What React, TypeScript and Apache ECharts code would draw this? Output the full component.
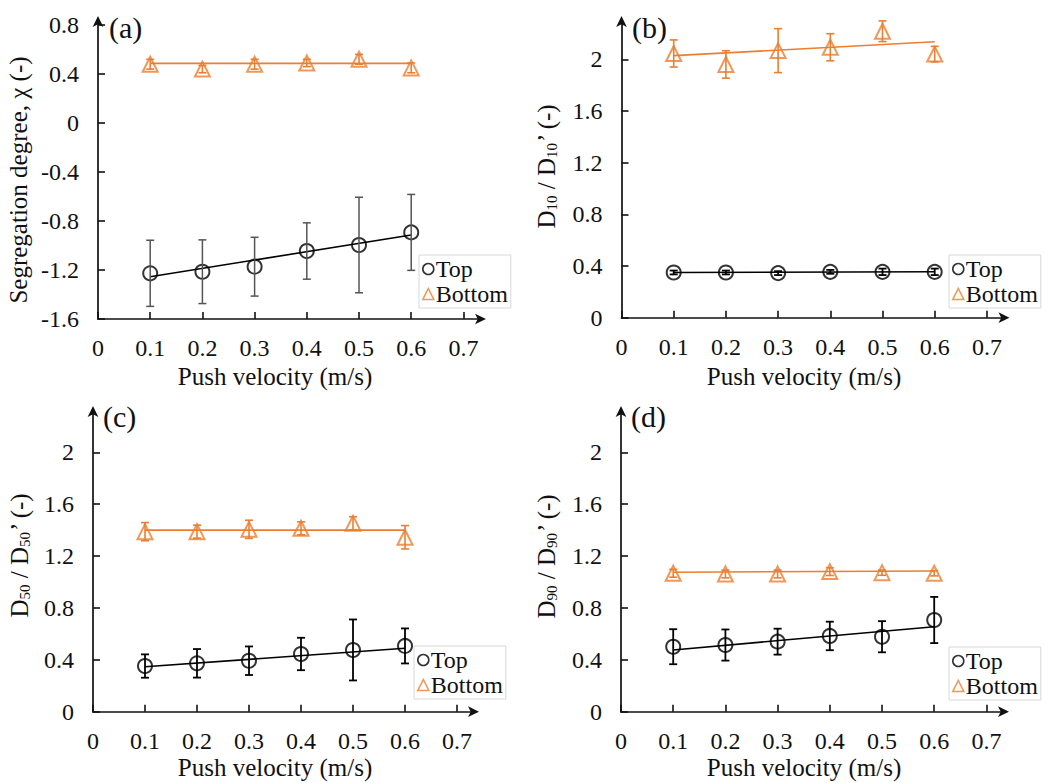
import React, { useEffect, useRef } from "react";
import * as echarts from "echarts";

const FONT = "Liberation Serif";
const ORANGE = "#EB7E30";

// ---- data ----
const velocity = [0.1, 0.2, 0.3, 0.4, 0.5, 0.6];
const trendX = [0.1, 0.6];
const xTicks = [0, 0.1, 0.2, 0.3, 0.4, 0.5, 0.6, 0.7];
const yTicksA = [-1.6, -1.2, -0.8, -0.4, 0, 0.4, 0.8];
const yTicksD = [0, 0.4, 0.8, 1.2, 1.6, 2];

const aTop = [-1.227, -1.214, -1.173, -1.045, -0.996, -0.893];
const aTopErr = [0.27, 0.26, 0.24, 0.23, 0.39, 0.31];
const aBottom = [0.48, 0.44, 0.48, 0.49, 0.52, 0.45];
const aBottomErr = [0.04, 0.03, 0.04, 0.03, 0.04, 0.04];
const aTopTrend = [-1.255, -0.914];
const aBottomTrend = [0.487, 0.487];

const bTop = [0.35, 0.35, 0.345, 0.355, 0.355, 0.355];
const bTopErr = [0.015, 0.015, 0.015, 0.015, 0.025, 0.025];
const bBottom = [2.045, 1.96, 2.067, 2.093, 2.217, 2.04];
const bBottomErr = [0.105, 0.106, 0.17, 0.105, 0.08, 0.06];
const bTopTrend = [0.35, 0.356];
const bBottomTrend = [2.028, 2.136];

const cTop = [0.352, 0.373, 0.393, 0.445, 0.476, 0.507];
const cTopErr = [0.09, 0.11, 0.11, 0.125, 0.235, 0.135];
const cBottom = [1.388, 1.388, 1.406, 1.414, 1.453, 1.345];
const cBottomErr = [0.07, 0.05, 0.07, 0.05, 0.05, 0.09];
const cTopTrend = [0.347, 0.489];
const cBottomTrend = [1.4, 1.4];

const dTop = [0.501, 0.514, 0.54, 0.584, 0.578, 0.707];
const dTopErr = [0.135, 0.12, 0.1, 0.11, 0.12, 0.178];
const dBottom = [1.067, 1.062, 1.062, 1.08, 1.072, 1.067];
const dBottomErr = [0.03, 0.03, 0.03, 0.03, 0.02, 0.02];
const dTopTrend = [0.476, 0.655];
const dBottomTrend = [1.075, 1.085];

const xTitle = "Push velocity (m/s)";
const panelLabels = ["(a)", "(b)", "(c)", "(d)"];

type Panel = {
  grid: { left: number; top: number; width: number; height: number };
  xMax: number;
  yMin: number;
  yMax: number;
  yTicks: number[];
  top: number[];
  topErr: number[];
  bottom: number[];
  bottomErr: number[];
  topTrend: number[];
  bottomTrend: number[];
  topErrColor: string;
  legend: { left: number; top: number };
  label: { x: number; y: number };
  yTitle: { x: number; y: number; text: string };
  xTitle: { x: number; y: number };
};

const panels: Panel[] = [
  {
    grid: { left: 98, top: 20, width: 384, height: 299 },
    xMax: 0.7356,
    yMin: -1.6,
    yMax: 0.841,
    yTicks: yTicksA,
    top: aTop,
    topErr: aTopErr,
    bottom: aBottom,
    bottomErr: aBottomErr,
    topTrend: aTopTrend,
    bottomTrend: aBottomTrend,
    topErrColor: "#555",
    legend: { left: 419, top: 255 },
    label: { x: 109, y: 27 },
    yTitle: { x: 18, y: 180, text: "Segregation degree, χ (-)" },
    xTitle: { x: 275, y: 376 },
  },
  {
    grid: { left: 621.5, top: 20, width: 384, height: 297.7 },
    xMax: 0.7356,
    yMin: 0,
    yMax: 2.304,
    yTicks: yTicksD,
    top: bTop,
    topErr: bTopErr,
    bottom: bBottom,
    bottomErr: bBottomErr,
    topTrend: bTopTrend,
    bottomTrend: bBottomTrend,
    topErrColor: "#000",
    legend: { left: 949, top: 255 },
    label: { x: 632, y: 27 },
    yTitle: { x: 546, y: 166, text: "{n|D}{s|10}{n| / D}{s|10}{n|’ (-)}" },
    xTitle: { x: 804, y: 376 },
  },
  {
    grid: { left: 93, top: 410, width: 382, height: 301.7 },
    xMax: 0.7346,
    yMin: 0,
    yMax: 2.326,
    yTicks: yTicksD,
    top: cTop,
    topErr: cTopErr,
    bottom: cBottom,
    bottomErr: cBottomErr,
    topTrend: cTopTrend,
    bottomTrend: cBottomTrend,
    topErrColor: "#000",
    legend: { left: 414, top: 646 },
    label: { x: 103, y: 416 },
    yTitle: { x: 19, y: 555, text: "{n|D}{s|50}{n| / D}{s|50}{n|’ (-)}" },
    xTitle: { x: 275, y: 767 },
  },
  {
    grid: { left: 621, top: 410, width: 384, height: 301.7 },
    xMax: 0.7356,
    yMin: 0,
    yMax: 2.326,
    yTicks: yTicksD,
    top: dTop,
    topErr: dTopErr,
    bottom: dBottom,
    bottomErr: dBottomErr,
    topTrend: dTopTrend,
    bottomTrend: dBottomTrend,
    topErrColor: "#000",
    legend: { left: 949, top: 647 },
    label: { x: 631, y: 416 },
    yTitle: { x: 546, y: 556, text: "{n|D}{s|90}{n| / D}{s|90}{n|’ (-)}" },
    xTitle: { x: 804, y: 767 },
  },
];

function errorSeries(i: number, vals: number[], errs: number[], color: string, width: number) {
  return {
    type: "custom",
    xAxisIndex: i,
    yAxisIndex: i,
    z: 5,
    silent: true,
    data: velocity.map((v, k) => [v, vals[k], errs[k]]),
    renderItem: (params: any, api: any) => {
      const x = api.value(0);
      const y = api.value(1);
      const e = api.value(2);
      const p1 = api.coord([x, y + e]);
      const p2 = api.coord([x, y - e]);
      const cap = 4;
      const st = { stroke: color, lineWidth: width };
      return {
        type: "group",
        children: [
          { type: "line", shape: { x1: p1[0], y1: p1[1], x2: p2[0], y2: p2[1] }, style: st },
          { type: "line", shape: { x1: p1[0] - cap, y1: p1[1], x2: p1[0] + cap, y2: p1[1] }, style: st },
          { type: "line", shape: { x1: p2[0] - cap, y1: p2[1], x2: p2[0] + cap, y2: p2[1] }, style: st },
        ],
      };
    },
  };
}

export default function App() {
  const ref = useRef<HTMLDivElement>(null);
  useEffect(() => {
    if (!ref.current) return;
    const chart = echarts.init(ref.current, undefined, { renderer: "svg" });

    const grid = panels.map((p) => ({ ...p.grid, containLabel: false, outerBoundsMode: "none" }));
    const axisLine = {
      show: true,
      onZero: false,
      symbol: ["none", "arrow"],
      symbolSize: [8, 11],
      symbolOffset: [0, 4],
      lineStyle: { color: "#111", width: 1.7 },
    };
    const xAxis = panels.map((p, i) => ({
      type: "value",
      gridIndex: i,
      min: 0,
      max: p.xMax,
      axisLine,
      axisTick: { show: true, inside: true, length: 7, customValues: xTicks, lineStyle: { color: "#111", width: 1.6 } },
      axisLabel: {
        customValues: xTicks,
        fontFamily: FONT,
        fontSize: 24,
        color: "#111",
        margin: 17,
        formatter: (v: number) => String(v),
      },
      splitLine: { show: false },
    }));
    const yAxis = panels.map((p, i) => ({
      type: "value",
      gridIndex: i,
      min: p.yMin,
      max: p.yMax,
      axisLine,
      axisTick: { show: true, inside: true, length: 7, customValues: p.yTicks, lineStyle: { color: "#111", width: 1.6 } },
      axisLabel: {
        customValues: p.yTicks,
        fontFamily: FONT,
        fontSize: 24,
        color: "#111",
        margin: 19,
        formatter: (v: number) => String(v),
      },
      splitLine: { show: false },
    }));

    const series: any[] = [];
    panels.forEach((p, i) => {
      series.push({
        type: "line",
        name: "Top trend",
        xAxisIndex: i,
        yAxisIndex: i,
        data: trendX.map((x, k) => [x, p.topTrend[k]]),
        showSymbol: false,
        lineStyle: { color: "#000", width: 1.6 },
        z: 3,
        silent: true,
      });
      series.push({
        type: "line",
        name: "Bottom trend",
        xAxisIndex: i,
        yAxisIndex: i,
        data: trendX.map((x, k) => [x, p.bottomTrend[k]]),
        showSymbol: false,
        lineStyle: { color: ORANGE, width: 1.6 },
        z: 3,
        silent: true,
      });
      series.push(errorSeries(i, p.top, p.topErr, p.topErrColor, i === 0 ? 1.5 : 1.8));
      series.push(errorSeries(i, p.bottom, p.bottomErr, ORANGE, 1.6));
      series.push({
        type: "scatter",
        name: "Top",
        xAxisIndex: i,
        yAxisIndex: i,
        data: velocity.map((v, k) => [v, p.top[k]]),
        symbol: "circle",
        symbolSize: 14,
        itemStyle: { color: "rgba(0,0,0,0)", borderColor: "#000", borderWidth: 2 },
        z: 4,
      });
      series.push({
        type: "scatter",
        name: "Bottom",
        xAxisIndex: i,
        yAxisIndex: i,
        data: velocity.map((v, k) => [v, p.bottom[k]]),
        symbol: "triangle",
        symbolSize: 15,
        itemStyle: { color: "rgba(0,0,0,0)", borderColor: ORANGE, borderWidth: 2 },
        z: 4,
      });
    });

    const legend = panels.map((p) => ({
      orient: "vertical",
      left: p.legend.left,
      top: p.legend.top,
      selectedMode: false,
      itemWidth: 11,
      itemHeight: 11,
      itemGap: 1,
      padding: [2, 3, 2, 3],
      borderColor: "#d8d8d8",
      borderWidth: 1,
      backgroundColor: "#fff",
      textStyle: { fontFamily: FONT, fontSize: 24, color: "#111", padding: [0, 0, 0, -3] },
      data: [
        { name: "Top", icon: "circle", itemStyle: { color: "rgba(0,0,0,0)", borderColor: "#000", borderWidth: 1.6 } },
        { name: "Bottom", icon: "triangle", itemStyle: { color: "rgba(0,0,0,0)", borderColor: ORANGE, borderWidth: 1.6 } },
      ],
    }));

    const graphic: any[] = [];
    panels.forEach((p, i) => {
      graphic.push({
        type: "text",
        x: p.label.x,
        y: p.label.y,
        style: { text: panelLabels[i], fontFamily: FONT, fontSize: 30, fill: "#111", align: "left", verticalAlign: "middle" },
      });
      graphic.push({
        type: "text",
        x: p.xTitle.x,
        y: p.xTitle.y,
        style: { text: xTitle, fontFamily: FONT, fontSize: 25, fill: "#111", align: "center", verticalAlign: "middle" },
      });
      graphic.push({
        type: "text",
        x: p.yTitle.x,
        y: p.yTitle.y,
        rotation: Math.PI / 2,
        style: {
          text: p.yTitle.text,
          fontFamily: FONT,
          fontSize: 25,
          fill: "#111",
          align: "center",
          verticalAlign: "middle",
          rich: {
            n: { fontFamily: FONT, fontSize: 25, fill: "#111" },
            s: { fontFamily: FONT, fontSize: 15, fill: "#111", padding: [12, 0, 0, 0] },
          },
        },
      });
    });

    chart.setOption({
      animation: false,
      backgroundColor: "#fff",
      textStyle: { fontFamily: FONT },
      grid,
      xAxis,
      yAxis,
      legend,
      series,
      graphic,
    });
    return () => chart.dispose();
  }, []);
  return (
    <div
      ref={ref}
      style={{ position: "absolute", left: 0, top: 0, width: 1053, height: 783 }}
    />
  );
}
